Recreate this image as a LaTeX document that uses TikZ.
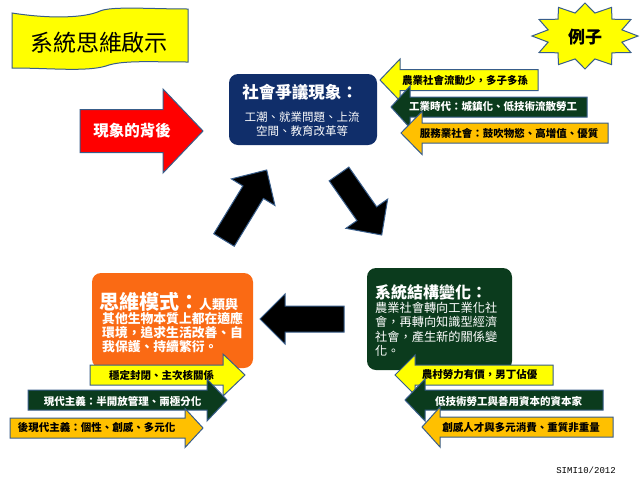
\documentclass[tikz,border=0pt]{standalone}
\usepackage{fontspec}
\setmainfont{Noto Sans CJK TC}
\newfontfamily\monof{Liberation Mono}
\usetikzlibrary{calc}
\definecolor{navy}{HTML}{102E6A}
\definecolor{dgreen}{HTML}{0B3B1D}
\definecolor{orng}{HTML}{FA6A14}
\definecolor{gold}{HTML}{FFC000}
\definecolor{yel}{HTML}{FFFF00}
\definecolor{edge}{HTML}{385D8A}
% block arrow: tipx, tipy, basex, endx, headhalf, bodyhalf, style
\newcommand{\BlkArr}[7]{\draw[#7] (#1,#2) -- (#3,#2-#5) -- (#3,#2-#6) -- (#4,#2-#6) -- (#4,#2+#6) -- (#3,#2+#6) -- (#3,#2+#5) -- cycle;}
% diagonal arrow between named coordinates
\newcommand{\DiagArr}[2]{%
  \coordinate (q#1) at ($(#2)!26pt!(#1)$);
  \draw[blackarr] (#2) -- ($(q#1)!25.5pt!90:(#2)$) -- ($(q#1)!12pt!90:(#2)$) -- ($(#1)!12pt!90:(#2)$)
     -- ($(#1)!12pt!-90:(#2)$) -- ($(q#1)!12pt!-90:(#2)$) -- ($(q#1)!25.5pt!-90:(#2)$) -- cycle;}
\tikzset{
  arr/.style={draw=edge, line width=1pt, line join=miter},
  yarr/.style={arr, fill=yel},
  garr/.style={arr, fill=dgreen},
  oarr/.style={arr, fill=gold},
  blackarr/.style={draw=edge, line width=1pt, fill=black},
  lab/.style={font=\bfseries\fontsize{10.5}{12}\selectfont, inner sep=0pt},
  box/.style={rounded corners=9pt, inner sep=0pt},
  txt/.style={inner sep=0pt, text=white}
}
\begin{document}
\begin{tikzpicture}[x=1pt, y=-1pt]
\useasboundingbox (0,0) rectangle (640,480);
\fill[white] (0,0) rectangle (640,480);

% title banner
\draw[fill=yel, draw=edge, line width=1pt] (12,13) .. controls (50,19) and (85,18) .. (100,11)
  .. controls (112,6) and (150,9) .. (188,9) -- (188,62)
  .. controls (150,62) and (122,60) .. (106,66) .. controls (86,72) and (50,68) .. (12,68) -- cycle;
\node[inner sep=0pt, font=\fontsize{23}{23}\selectfont] (title) at (99,43) {系統思維啟示};

% star
\draw[fill=yel, draw=edge, line width=1pt] (585,3)
  \foreach \i in {1,...,23} { -- ({585+53*(1-0.28*mod(\i,2))*cos(90+15*\i)},{36-33*(1-0.28*mod(\i,2))*sin(90+15*\i)}) } -- cycle;
\node[inner sep=0pt, font=\bfseries\fontsize{17}{17}\selectfont] (ex) at (585,37) {例子};

% red arrow
\BlkArr{203}{131}{163}{80}{42}{21.5}{arr, fill=red}
\node[txt, font=\bfseries\fontsize{15.5}{16}\selectfont] (behind) at (132,131) {現象的背後};

% navy box
\node[box, fill=navy, minimum width=148pt, minimum height=71pt] (soc) at (303,109.5) {};
\node[txt, font=\bfseries\fontsize{16.5}{17}\selectfont] (soct) at (300,92) {社會爭議現象：};
\node[txt, font=\fontsize{11.5}{12}\selectfont] (soc1) at (302,117) {工潮、就業問題、上流};
\node[txt, font=\fontsize{11.5}{12}\selectfont] (soc2) at (302,131) {空間、教育改革等};

% top-right arrows
\BlkArr{380}{80}{400}{538}{21}{10.5}{yarr}
\node[lab] (t1) at (465,80) {農業社會流動少，多子多孫};
\BlkArr{391}{107}{410}{587}{21}{10}{garr}
\node[lab, text=white] (t2) at (493,107) {工業時代：城鎮化、低技術流散勞工};
\BlkArr{401}{133}{422}{608}{21.5}{10}{oarr}
\node[lab] (t3) at (509,133) {服務業社會：鼓吹物慾、高增值、優質};

% black cycle arrows
\coordinate (ua) at (224,240);
\coordinate (ub) at (266.7,170);
\DiagArr{ua}{ub}
\coordinate (da) at (339,174);
\coordinate (db) at (381.7,235);
\DiagArr{da}{db}
\BlkArr{260}{319}{285}{344}{25}{13}{blackarr}

% orange box
\node[box, fill=orng, minimum width=161pt, minimum height=95pt] (mind) at (172.5,320.5) {};
\node[txt, anchor=west] (mindt) at (99,302) {{\bfseries\fontsize{20}{20}\selectfont 思維模式：}{\bfseries\fontsize{13}{13}\selectfont 人類與}};
\node[txt, anchor=west, font=\bfseries\fontsize{12.8}{13}\selectfont] (mind1) at (102,319) {其他生物本質上都在適應};
\node[txt, anchor=west, font=\bfseries\fontsize{12.8}{13}\selectfont] (mind2) at (102,333) {環境，追求生活改善、自};
\node[txt, anchor=west, font=\bfseries\fontsize{12.8}{13}\selectfont] (mind3) at (102,347) {我保護、持續繁衍。};

% green box
\node[box, fill=dgreen, minimum width=145pt, minimum height=102pt] (sys) at (439.5,319) {};
\node[txt, anchor=west, font=\bfseries\fontsize{16}{16}\selectfont] (syst) at (375,292) {系統結構變化：};
\node[txt, anchor=west, font=\fontsize{12.2}{13}\selectfont] (sys1) at (375,308) {農業社會轉向工業化社};
\node[txt, anchor=west, font=\fontsize{12.2}{13}\selectfont] (sys2) at (375,322) {會，再轉向知識型經濟};
\node[txt, anchor=west, font=\fontsize{12.2}{13}\selectfont] (sys3) at (375,337) {社會，產生新的關係變};
\node[txt, anchor=west, font=\fontsize{12.2}{13}\selectfont] (sys4) at (375,351) {化。};

% bottom-left arrows
\BlkArr{245}{375}{223}{90}{21}{10}{yarr}
\node[lab] (l1) at (161.5,375) {穩定封閉、主次核關係};
\BlkArr{227}{400}{207}{28}{21}{10}{garr}
\node[lab, text=white] (l2) at (122.5,401) {現代主義：半開放管理、兩極分化};
\BlkArr{203}{428}{185}{10}{19.5}{10}{oarr}
\node[lab] (l3) at (96.5,427) {後現代主義：個性、創感、多元化};

% bottom-right arrows
\BlkArr{395}{375}{415}{553}{20}{10}{yarr}
\node[lab] (r1) at (479.5,375) {農村勞力有價，男丁佔優};
\BlkArr{405}{400}{425}{603}{21}{10}{garr}
\node[lab, text=white] (r2) at (508.5,401) {低技術勞工與善用資本的資本家};
\BlkArr{422}{427}{440}{613}{20}{10}{oarr}
\node[lab] (r3) at (521,427) {創感人才與多元消費、重質非重量};

% credit
\node[inner sep=0pt, font=\monof\fontsize{9}{9}\selectfont] (credit) at (586,470) {SIMI10/2012};
\end{tikzpicture}
\end{document}
